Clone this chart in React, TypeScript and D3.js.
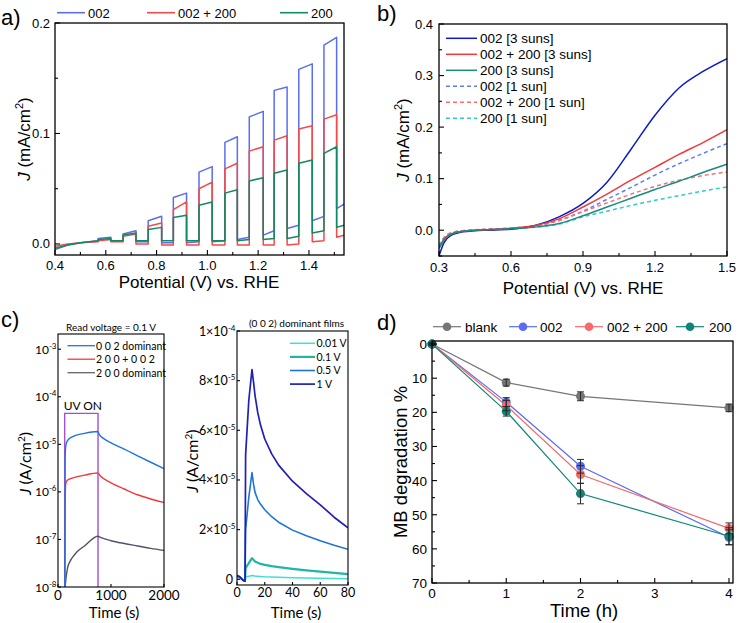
import React from "react";
import * as d3 from "d3";

const FA = "'Liberation Sans', Arial, Helvetica, sans-serif";
const FC = "Lato, 'Open Sans', sans-serif";

// ---------------- Panel a: chopped-light LSV ----------------
const aLightOn = [0.57, 0.668, 0.767, 0.866, 0.967, 1.069, 1.165, 1.263, 1.36, 1.459];
const aLightOff = [0.62, 0.719, 0.82, 0.918, 1.019, 1.118, 1.22, 1.314, 1.413, 1.509];
const aLeadV = [0.4, 0.45, 0.5, 0.57];
const aEndV = 1.538;
const aNames = ["002", "002 + 200", "200"];
const aColors = ["#5a6ef2", "#f34a4a", "#0f8a62"];
const a002Lead = [-0.005, -0.001, 0.001, 0.003];
const a002OnStart = [0.005, 0.009, 0.021, 0.042, 0.065, 0.092, 0.115, 0.139, 0.158, 0.18];
const a002OnEnd = [0.006, 0.012, 0.025, 0.046, 0.07, 0.097, 0.12, 0.142, 0.163, 0.187];
const a002DarkStart = [0.003, 0.002, 0.001, 0.001, 0.002, 0.004, 0.008, 0.014, 0.021, 0.032];
const a002DarkEnd = [0.003, 0.002, 0.001, 0.002, 0.003, 0.006, 0.012, 0.017, 0.025, 0.036];
const aMixLead = [-0.002, 0.0, 0.001, 0.002];
const aMixOnStart = [0.003, 0.007, 0.016, 0.031, 0.05, 0.068, 0.084, 0.094, 0.104, 0.113];
const aMixOnEnd = [0.004, 0.009, 0.019, 0.038, 0.056, 0.073, 0.088, 0.098, 0.107, 0.117];
const aMixDarkStart = [0.002, 0.0, -0.001, -0.001, -0.001, -0.001, -0.001, -0.001, 0.002, 0.006];
const aMixDarkEnd = [0.002, 0.0, -0.001, -0.001, -0.001, -0.001, -0.001, 0.0, 0.003, 0.008];
const a200Lead = [-0.004, -0.001, 0.001, 0.003];
const a200OnStart = [0.004, 0.008, 0.013, 0.024, 0.035, 0.046, 0.057, 0.064, 0.073, 0.082];
const a200OnEnd = [0.005, 0.01, 0.015, 0.026, 0.038, 0.049, 0.06, 0.067, 0.076, 0.088];
const a200DarkStart = [0.003, 0.003, 0.003, 0.003, 0.003, 0.003, 0.004, 0.005, 0.01, 0.015];
const a200DarkEnd = [0.003, 0.003, 0.003, 0.003, 0.003, 0.004, 0.005, 0.007, 0.012, 0.017];
const aXTicks = [0.4, 0.6, 0.8, 1.0, 1.2, 1.4];
const aXMinor = [0.5, 0.7, 0.9, 1.1, 1.3, 1.5];
const aYTicks = [0, 0.1, 0.2];
const aYMinor = [0.05, 0.15];

// ---------------- Panel b: LSV under 1 / 3 suns ----------------
const bV = [0.3, 0.32, 0.35, 0.4, 0.45, 0.5, 0.6, 0.7, 0.8, 0.9, 1.0, 1.1, 1.2, 1.3, 1.4, 1.5];
const b002_3 = [-0.05, -0.025, -0.01, -0.003, -0.001, 0.0, 0.002, 0.009, 0.026, 0.052, 0.093, 0.157, 0.223, 0.276, 0.308, 0.333];
const bMix_3 = [-0.035, -0.018, -0.007, -0.002, 0.0, 0.001, 0.004, 0.009, 0.022, 0.045, 0.07, 0.097, 0.122, 0.147, 0.17, 0.195];
const b200_3 = [-0.035, -0.02, -0.008, -0.002, 0.0, 0.001, 0.003, 0.006, 0.013, 0.028, 0.045, 0.062, 0.079, 0.095, 0.112, 0.128];
const b002_1 = [-0.03, -0.015, -0.006, -0.001, 0.0, 0.002, 0.004, 0.008, 0.019, 0.037, 0.06, 0.083, 0.107, 0.129, 0.149, 0.168];
const bMix_1 = [-0.03, -0.015, -0.005, -0.001, 0.001, 0.002, 0.004, 0.008, 0.019, 0.036, 0.053, 0.07, 0.085, 0.097, 0.106, 0.113];
const b200_1 = [-0.03, -0.016, -0.006, -0.001, 0.0, 0.001, 0.003, 0.006, 0.012, 0.026, 0.037, 0.048, 0.058, 0.067, 0.076, 0.084];
const bNames = ["002 [3 suns]", "002 + 200 [3 suns]", "200 [3 suns]", "002 [1 sun]", "002 + 200 [1 sun]", "200 [1 sun]"];
const bColors = ["#0c1cc4", "#f03a3a", "#1a8a82", "#5b7ff2", "#fa7070", "#30cccc"];
const bXTicks = [0.3, 0.6, 0.9, 1.2, 1.5];
const bXMinor = [0.45, 0.75, 1.05, 1.35];
const bYTicks = [0, 0.1, 0.2, 0.3, 0.4];
const bYMinor = [-0.05, 0.05, 0.15, 0.25, 0.35];

// ---------------- Panel c (left): photocurrent, log scale ----------------
const c1T002 = [128, 135, 145, 170, 250, 500, 750, 780, 850, 1000, 1250, 1500, 1750, 2000];
const c1J002 = [1e-8, 5e-6, 9e-6, 1.15e-5, 1.4e-5, 1.7e-5, 1.86e-5, 1.6e-5, 1.35e-5, 1.07e-5, 7.9e-6, 5.75e-6, 4.2e-6, 3.1e-6];
const c1TMix = [128, 135, 145, 175, 300, 500, 750, 800, 1000, 1250, 1500, 1750, 2000];
const c1JMix = [1e-8, 6e-7, 1.45e-6, 1.75e-6, 2.0e-6, 2.25e-6, 2.5e-6, 2.15e-6, 1.55e-6, 1.15e-6, 8.7e-7, 7.1e-7, 6.0e-7];
const c1T200 = [135, 150, 180, 230, 300, 390, 500, 750, 800, 1000, 1250, 1500, 1750, 2000];
const c1J200 = [1e-8, 1.5e-8, 2.5e-8, 3.5e-8, 4.6e-8, 5.9e-8, 7.3e-8, 1.17e-7, 1.1e-7, 9.4e-8, 8.2e-8, 7.3e-8, 6.5e-8, 5.9e-8];
const c1Names = ["0 0 2 dominant", "2 0 0 + 0 0 2", "2 0 0 dominant"];
const c1Colors = ["#1f74e0", "#f03a3a", "#555068"];
const c1UvStart = 126;
const c1UvEnd = 755;
const c1UvTop = 4.47e-5;
const c1XTicks = [0, 1000, 2000];
const c1YExp = [-8, -7, -6, -5, -4, -3];

// ---------------- Panel c (right): (0 0 2) films, linear (units of 1e-5 A/cm2) ----------------
const c2T = [0, 2, 4.5, 5.8, 6.2, 8.5, 10.8, 12, 13, 15, 17, 20, 25, 30, 40, 50, 60, 70, 80];
const c2J1 = [0.15, 0.1, -0.05, -0.08, 5.0, 7.2, 8.45, 7.9, 7.4, 6.7, 6.2, 5.65, 5.05, 4.6, 3.95, 3.45, 3.0, 2.5, 2.07];
const c2J05 = [0.15, 0.1, -0.05, -0.08, 2.0, 3.3, 4.3, 3.8, 3.5, 3.2, 3.02, 2.8, 2.52, 2.3, 1.98, 1.75, 1.55, 1.37, 1.21];
const c2J01 = [0.12, 0.08, -0.03, -0.05, 0.45, 0.65, 0.85, 0.78, 0.72, 0.67, 0.62, 0.58, 0.53, 0.49, 0.42, 0.36, 0.31, 0.26, 0.21];
const c2J001 = [0.1, 0.06, -0.03, -0.05, 0.1, 0.12, 0.15, 0.14, 0.13, 0.12, 0.11, 0.1, 0.09, 0.08, 0.06, 0.05, 0.04, 0.03, 0.02];
const c2Names = ["0.01 V", "0.1 V", "0.5 V", "1 V"];
const c2Colors = ["#3fe0d2", "#22b4a4", "#1f74d4", "#2020b6"];
const c2Widths = [1.5, 2.2, 1.6, 1.7];
const c2XTicks = [0, 20, 40, 60, 80];
const c2YTicks = [0, 2, 4, 6, 8, 10];
const c2YLabels = [["0", ""], ["2×10", "-5"], ["4×10", "-5"], ["6×10", "-5"], ["8×10", "-5"], ["1×10", "-4"]];

// ---------------- Panel d: MB degradation ----------------
const dTime = [0, 1, 2, 4];
const dBlank = [0, 11.3, 15.3, 18.7];
const dBlankErr = [0.3, 1.0, 1.3, 1.1];
const d002 = [0, 17.0, 35.8, 56.6];
const d002Err = [0.3, 1.3, 2.0, 2.2];
const dMix = [0, 18.0, 38.2, 54.0];
const dMixErr = [0.3, 1.5, 2.6, 1.6];
const d200 = [0, 19.7, 43.8, 56.3];
const d200Err = [0.3, 1.4, 3.0, 2.5];
const dNames = ["blank", "002", "002 + 200", "200"];
const dColors = ["#767676", "#5a6cf2", "#f46b69", "#0f8577"];
const dXTicks = [0, 1, 2, 3, 4];
const dXMinor = [0.5, 1.5, 2.5, 3.5];
const dYTicks = [0, 10, 20, 30, 40, 50, 60, 70];
const dYMinor = [5, 15, 25, 35, 45, 55, 65];

type P = [number, number];

function chopped(lead: number[], onS: number[], onE: number[], dS: number[], dE: number[]): P[] {
  const pts: P[] = aLeadV.map((v, i) => [v, lead[i]] as P);
  aLightOn.forEach((on, k) => {
    const next = k < aLightOn.length - 1 ? aLightOn[k + 1] : aEndV;
    pts.push([on, onS[k]], [aLightOff[k], onE[k]], [aLightOff[k], dS[k]], [next, dE[k]]);
  });
  return pts;
}

function Frame({ l, t, r, b, w = 1.3 }: any) {
  return <rect x={l} y={t} width={r - l} height={b - t} fill="none" stroke="#000" strokeWidth={w} />;
}

function XTickMarks({ sc, vals, yb, len }: any) {
  return (
    <g>
      {vals.map((v: number, i: number) => (
        <line key={i} x1={sc(v)} x2={sc(v)} y1={yb} y2={yb - len} stroke="#000" strokeWidth={1.1} />
      ))}
    </g>
  );
}
function YTickMarks({ sc, vals, xl, len }: any) {
  return (
    <g>
      {vals.map((v: number, i: number) => (
        <line key={i} x1={xl} x2={xl + len} y1={sc(v)} y2={sc(v)} stroke="#000" strokeWidth={1.1} />
      ))}
    </g>
  );
}

export default function App() {
  // ---------- scales ----------
  const A = { l: 55, t: 23, r: 344, b: 255 };
  const ax = d3.scaleLinear().domain([0.4, aEndV]).range([A.l, A.r]);
  const ay = d3.scaleLinear().domain([-0.01, 0.2]).range([A.b, A.t]);
  const aLine = d3.line<P>().x((d) => ax(d[0])).y((d) => ay(d[1]));
  const aSeries = [
    chopped(a002Lead, a002OnStart, a002OnEnd, a002DarkStart, a002DarkEnd),
    chopped(aMixLead, aMixOnStart, aMixOnEnd, aMixDarkStart, aMixDarkEnd),
    chopped(a200Lead, a200OnStart, a200OnEnd, a200DarkStart, a200DarkEnd),
  ];

  const B = { l: 439, t: 24, r: 727, b: 256 };
  const bx = d3.scaleLinear().domain([0.3, 1.5]).range([B.l, B.r]);
  const by = d3.scaleLinear().domain([-0.05, 0.4]).range([B.b, B.t]);
  const bLine = d3
    .line<number>()
    .x((_, i) => bx(bV[i]))
    .y((d) => by(d))
    .curve(d3.curveMonotoneX);
  const bSeries = [b002_3, bMix_3, b200_3, b002_1, bMix_1, b200_1];

  const C1 = { l: 58, t: 334, r: 164, b: 587 };
  const c1x = d3.scaleLinear().domain([0, 2000]).range([C1.l, C1.r]);
  const c1y = d3.scaleLog().domain([1e-8, Math.pow(10, -2.68)]).range([C1.b, C1.t]);
  const c1Line = d3
    .line<P>()
    .x((d) => c1x(d[0]))
    .y((d) => c1y(d[1]))
    .curve(d3.curveMonotoneX);
  const c1Series: P[][] = [
    c1T002.map((t, i) => [t, c1J002[i]] as P),
    c1TMix.map((t, i) => [t, c1JMix[i]] as P),
    c1T200.map((t, i) => [t, c1J200[i]] as P),
  ];

  const C2 = { l: 237, t: 331, r: 348, b: 585 };
  const c2x = d3.scaleLinear().domain([0, 80]).range([C2.l, C2.r]);
  const c2y = d3.scaleLinear().domain([-0.23, 10]).range([C2.b, C2.t]);
  const c2Line = d3
    .line<number>()
    .x((_, i) => c2x(c2T[i]))
    .y((d) => c2y(d));
  const c2Series = [c2J001, c2J01, c2J05, c2J1];

  const D = { l: 432, t: 341, r: 733, b: 583 };
  const dx = d3.scaleLinear().domain([0, 4.054]).range([D.l, D.r]);
  const dy = d3.scaleLinear().domain([-0.9, 70]).range([D.t, D.b]);
  const dLine = d3
    .line<number>()
    .x((_, i) => dx(dTime[i]))
    .y((d) => dy(d));
  const dSeries = [dBlank, d002, dMix, d200];
  const dErrs = [dBlankErr, d002Err, dMixErr, d200Err];

  return (
    <svg
      width={738}
      height={623}
      style={{ position: "absolute", left: 0, top: 0, background: "#fff" }}
      fontFamily={FA}
    >
      <defs>
        <clipPath id="clipA">
          <rect x={A.l} y={A.t} width={A.r - A.l} height={A.b - A.t} />
        </clipPath>
        <clipPath id="clipB">
          <rect x={B.l} y={B.t} width={B.r - B.l} height={B.b - B.t} />
        </clipPath>
        <clipPath id="clipC1">
          <rect x={C1.l} y={C1.t} width={C1.r - C1.l} height={C1.b - C1.t} />
        </clipPath>
        <clipPath id="clipC2">
          <rect x={C2.l} y={C2.t} width={C2.r - C2.l} height={C2.b - C2.t} />
        </clipPath>
      </defs>
      <rect x={0} y={0} width={738} height={623} fill="#fff" />

      {/* ================= Panel a ================= */}
      <text x={1} y={25} fontSize={22}>a)</text>
      {aNames.map((n, i) => {
        const lx = [57, 147, 280][i];
        return (
          <g key={n}>
            <line x1={lx} x2={lx + 28} y1={12.7} y2={12.7} stroke={aColors[i]} strokeWidth={1.6} />
            <text x={lx + 31} y={17.5} fontSize={13}>{n}</text>
          </g>
        );
      })}
      <g clipPath="url(#clipA)">
        {aSeries.map((s, i) => (
          <path key={i} d={aLine(s) || ""} fill="none" stroke={aColors[i]} strokeWidth={1.5} strokeLinejoin="round" />
        ))}
      </g>
      <Frame {...A} />
      <XTickMarks sc={ax} vals={aXTicks} yb={A.b} len={5} />
      <XTickMarks sc={ax} vals={aXMinor.filter((v) => v < aEndV)} yb={A.b} len={3} />
      <YTickMarks sc={ay} vals={aYTicks} xl={A.l} len={5} />
      <YTickMarks sc={ay} vals={aYMinor} xl={A.l} len={3} />
      {aXTicks.map((v) => (
        <text key={v} x={ax(v)} y={270} fontSize={13} textAnchor="middle">{v.toFixed(1)}</text>
      ))}
      {aYTicks.map((v) => (
        <text key={v} x={A.l - 5} y={ay(v) + 4.5} fontSize={13} textAnchor="end">{v.toFixed(1)}</text>
      ))}
      <text x={199} y={288} fontSize={17} textAnchor="middle">Potential (V) vs. RHE</text>
      <text transform={`translate(30,${(A.t + A.b) / 2}) rotate(-90)`} fontSize={17} textAnchor="middle">
        <tspan fontStyle="italic">J</tspan> (mA/cm<tspan dy={-7} fontSize={11}>2</tspan>
        <tspan dy={7}>)</tspan>
      </text>

      {/* ================= Panel b ================= */}
      <text x={377} y={21} fontSize={22}>b)</text>
      <g clipPath="url(#clipB)">
        {[3, 4, 5, 0, 1, 2].map((i) => (
          <path
            key={i}
            d={bLine(bSeries[i]) || ""}
            fill="none"
            stroke={bColors[i]}
            strokeWidth={1.5}
            strokeDasharray={i >= 3 ? "4,3" : undefined}
          />
        ))}
      </g>
      {bNames.map((n, i) => {
        const yy = 38.3 + i * 16;
        return (
          <g key={n}>
            <line x1={446} x2={477} y1={yy} y2={yy} stroke={bColors[i]} strokeWidth={1.5} strokeDasharray={i >= 3 ? "4,3" : undefined} />
            <text x={480} y={yy + 4.7} fontSize={13.5}>{n}</text>
          </g>
        );
      })}
      <Frame {...B} />
      <XTickMarks sc={bx} vals={bXTicks} yb={B.b} len={5} />
      <XTickMarks sc={bx} vals={bXMinor} yb={B.b} len={3} />
      <YTickMarks sc={by} vals={bYTicks} xl={B.l} len={5} />
      <YTickMarks sc={by} vals={bYMinor} xl={B.l} len={3} />
      {bXTicks.map((v) => (
        <text key={v} x={bx(v)} y={272} fontSize={13} textAnchor="middle">{v.toFixed(1)}</text>
      ))}
      {bYTicks.map((v) => (
        <text key={v} x={B.l - 6} y={by(v) + 4.5} fontSize={13} textAnchor="end">{v.toFixed(1)}</text>
      ))}
      <text x={583} y={294} fontSize={17} textAnchor="middle">Potential (V) vs. RHE</text>
      <text transform={`translate(409,${(B.t + B.b) / 2}) rotate(-90)`} fontSize={17} textAnchor="middle">
        <tspan fontStyle="italic">J</tspan> (mA/cm<tspan dy={-7} fontSize={11}>2</tspan>
        <tspan dy={7}>)</tspan>
      </text>

      {/* ================= Panel c ================= */}
      <text x={1} y={327} fontSize={22}>c)</text>
      <g fontFamily={FC}>
        {/* left */}
        <text x={(C1.l + C1.r) / 2} y={330.5} fontSize={10} textAnchor="middle">Read voltage = 0.1 V</text>
        <g clipPath="url(#clipC1)">
          <path
            d={`M${c1x(c1UvStart)},${C1.b}V${c1y(c1UvTop)}H${c1x(c1UvEnd)}V${C1.b}`}
            fill="none"
            stroke="#a44fd8"
            strokeWidth={1.4}
          />
          {[2, 1, 0].map((i) => (
            <path key={i} d={c1Line(c1Series[i]) || ""} fill="none" stroke={c1Colors[i]} strokeWidth={1.4} />
          ))}
        </g>
        <text x={c1x(c1UvStart) - 1} y={410} fontSize={12}>UV ON</text>
        {c1Names.map((n, i) => {
          const yy = 345.7 + i * 13.5;
          return (
            <g key={n}>
              <line x1={67.5} x2={95} y1={yy} y2={yy} stroke={i === 2 ? "#666" : c1Colors[i]} strokeWidth={1.3} />
              <text x={96} y={yy + 3.8} fontSize={10.5}>{n}</text>
            </g>
          );
        })}
        <Frame {...C1} w={1.1} />
        <XTickMarks sc={c1x} vals={c1XTicks} yb={C1.b} len={3} />
        <YTickMarks sc={(e: number) => c1y(Math.pow(10, e))} vals={c1YExp} xl={C1.l} len={3} />
        {c1XTicks.map((v) => (
          <text key={v} x={c1x(v)} y={600} fontSize={13.5} textAnchor="middle">{v}</text>
        ))}
        {c1YExp.map((e) => (
          <text key={e} x={C1.l - 1.5} y={c1y(Math.pow(10, e)) + 4.5} fontSize={12} textAnchor="end">
            10
            <tspan dy={-5} fontSize={8}>{e}</tspan>
          </text>
        ))}
        <text x={114} y={618} fontSize={15} textAnchor="middle">Time (s)</text>
        <text transform={`translate(31,${(C1.t + C1.b) / 2 + 3}) rotate(-90)`} fontSize={16} textAnchor="middle">
          <tspan fontStyle="italic">J</tspan> (A/cm<tspan dy={-6} fontSize={10}>2</tspan>
          <tspan dy={6}>)</tspan>
        </text>

        {/* right */}
        <text x={(C2.l + C2.r) / 2 + 4} y={327} fontSize={10} textAnchor="middle">(0 0 2) dominant films</text>
        <g clipPath="url(#clipC2)">
          {c2Series.map((s, i) => (
            <path key={i} d={c2Line(s) || ""} fill="none" stroke={c2Colors[i]} strokeWidth={c2Widths[i]} strokeLinejoin="round" />
          ))}
        </g>
        {c2Names.map((n, i) => {
          const yy = 343.3 + i * 13.6;
          return (
            <g key={n}>
              <line x1={290} x2={315} y1={yy} y2={yy} stroke={c2Colors[i]} strokeWidth={c2Widths[i]} />
              <text x={316.5} y={yy + 3.8} fontSize={10.5}>{n}</text>
            </g>
          );
        })}
        <Frame {...C2} w={1.1} />
        <XTickMarks sc={c2x} vals={c2XTicks} yb={C2.b} len={3} />
        <YTickMarks sc={c2y} vals={c2YTicks} xl={C2.l} len={3} />
        {c2XTicks.map((v) => (
          <text key={v} x={c2x(v)} y={597} fontSize={12.5} textAnchor="middle">{v}</text>
        ))}
        {c2YTicks.map((v, i) => (
          <text key={v} x={c2YLabels[i][1] ? C2.l - 1.5 : C2.l - 4} y={c2y(v) + 4.5} fontSize={12.5} textAnchor="end">
            {c2YLabels[i][0]}
            {c2YLabels[i][1] ? <tspan dy={-5} fontSize={8}>{c2YLabels[i][1]}</tspan> : null}
          </text>
        ))}
        <text x={296} y={618} fontSize={15} textAnchor="middle">Time (s)</text>
        <text transform={`translate(198,${(C2.t + C2.b) / 2 + 3}) rotate(-90)`} fontSize={16} textAnchor="middle">
          <tspan fontStyle="italic">J</tspan> (A/cm<tspan dy={-6} fontSize={10}>2</tspan>
          <tspan dy={6}>)</tspan>
        </text>
      </g>

      {/* ================= Panel d ================= */}
      <text x={377} y={330} fontSize={22}>d)</text>
      {dNames.map((n, i) => {
        const lx = [433, 509, 575, 676][i];
        const tx = [465, 540, 607, 709][i];
        return (
          <g key={n}>
            <line x1={lx} x2={lx + 28} y1={326.7} y2={326.7} stroke={dColors[i]} strokeWidth={1.2} />
            <circle cx={lx + 14} cy={326.7} r={4.3} fill={dColors[i]} />
            <text x={tx} y={331.5} fontSize={13.5}>{n}</text>
          </g>
        );
      })}
      {dSeries.map((s, i) => (
        <path key={i} d={dLine(s) || ""} fill="none" stroke={dColors[i]} strokeWidth={1.2} />
      ))}
      {dSeries.map((s, i) =>
        s.map((v, j) => (
          <circle key={`${i}-${j}`} cx={dx(dTime[j])} cy={dy(v)} r={4.5} fill={dColors[i]} />
        ))
      )}
      {dSeries.map((s, i) =>
        s.map((v, j) => {
          const x = dx(dTime[j]);
          const e = dErrs[i][j];
          return (
            <g key={`e${i}-${j}`} stroke="#2a2a2a" strokeWidth={1}>
              <line x1={x} x2={x} y1={dy(v - e)} y2={dy(v + e)} />
              <line x1={x - 3.5} x2={x + 3.5} y1={dy(v - e)} y2={dy(v - e)} />
              <line x1={x - 3.5} x2={x + 3.5} y1={dy(v + e)} y2={dy(v + e)} />
            </g>
          );
        })
      )}
      <Frame {...D} />
      <XTickMarks sc={(v: number) => dx(v)} vals={dXTicks} yb={D.b} len={5} />
      <XTickMarks sc={(v: number) => dx(v)} vals={dXMinor} yb={D.b} len={3} />
      {dYTicks.map((v) => (
        <line key={v} x1={D.l} x2={D.l + 5} y1={dy(v)} y2={dy(v)} stroke="#000" strokeWidth={1.1} />
      ))}
      {dYMinor.map((v) => (
        <line key={v} x1={D.l} x2={D.l + 3} y1={dy(v)} y2={dy(v)} stroke="#000" strokeWidth={1.1} />
      ))}
      {dXTicks.map((v) => (
        <text key={v} x={dx(v)} y={597.5} fontSize={13.5} textAnchor="middle">{v}</text>
      ))}
      {dYTicks.map((v) => (
        <text key={v} x={D.l - 5} y={dy(v) + 5} fontSize={13.5} textAnchor="end">{v}</text>
      ))}
      <text x={584} y={617} fontSize={18.5} textAnchor="middle">Time (h)</text>
      <text transform={`translate(407,${(D.t + D.b) / 2}) rotate(-90)`} fontSize={18.5} textAnchor="middle">MB degradation %</text>
    </svg>
  );
}
